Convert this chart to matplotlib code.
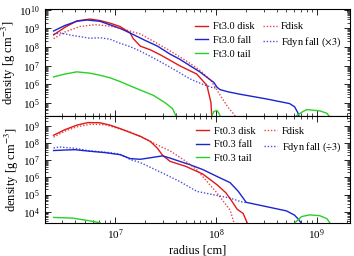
import numpy as np
import matplotlib
matplotlib.use("Agg")
import matplotlib.pyplot as plt
from matplotlib.ticker import LogLocator, NullFormatter

plt.rcParams['font.family'] = ['Liberation Serif', 'DejaVu Serif']
plt.rcParams['mathtext.fontset'] = 'stix'

# values, as log10(radius) / log10(density)
# --- top panel (Ft3.0) ---
t_disk_x = [6.39, 6.50, 6.62, 6.75, 6.85, 6.95, 7.05, 7.15, 7.18, 7.25, 7.35, 7.45, 7.64, 7.81, 7.91, 7.95, 7.96]
t_disk_y = [8.65, 9.05, 9.40, 9.50, 9.42, 9.28, 9.10, 8.75, 8.45, 8.05, 7.85, 7.58, 7.00, 6.55, 5.95, 5.04, 4.20]
t_fall_x = [6.39, 6.50, 6.62, 6.72, 6.85, 6.95, 7.05, 7.15, 7.30, 7.42, 7.545, 7.64, 7.84, 7.95, 7.98, 8.01, 8.04, 8.12, 8.24, 8.50, 8.73, 8.78, 8.81, 8.83]
t_fall_y = [8.86, 9.15, 9.38, 9.45, 9.38, 9.19, 9.00, 8.75, 8.35, 8.05, 7.62, 7.35, 6.67, 6.22, 6.10, 5.85, 5.72, 5.60, 5.47, 5.22, 4.97, 4.80, 4.50, 4.20]
t_tail_x = [6.39, 6.50, 6.62, 6.75, 6.85, 6.95, 7.05, 7.18, 7.38, 7.50, 7.57, 7.61]
t_tail_y = [6.40, 6.55, 6.67, 6.60, 6.49, 6.35, 6.15, 5.85, 5.41, 5.00, 4.70, 4.23]
t_tail2_x = [7.95, 7.98, 8.01, 8.03, 8.05]
t_tail2_y = [4.20, 4.55, 4.60, 4.45, 4.20]
t_tail3_x = [8.78, 8.85, 8.90, 9.03, 9.10, 9.13]
t_tail3_y = [4.25, 4.50, 4.65, 4.58, 4.45, 4.25]
t_fdisk_x = [6.39, 6.50, 6.65, 6.80, 6.95, 7.05, 7.15, 7.25, 7.40, 7.55, 7.70, 7.85, 7.95, 8.05, 8.12, 8.19, 8.22]
t_fdisk_y = [8.45, 8.80, 9.10, 9.20, 9.12, 9.00, 8.85, 8.70, 8.25, 7.78, 7.28, 6.72, 6.20, 5.35, 4.77, 4.32, 4.20]
t_fdyn_x = [6.39, 6.45, 6.55, 6.75, 6.85, 6.95, 7.05, 7.15, 7.25, 7.35, 7.47, 7.60, 7.74, 7.87, 7.95, 8.00]
t_fdyn_y = [8.68, 8.76, 8.65, 8.47, 8.50, 8.42, 8.20, 8.02, 7.78, 7.50, 7.15, 6.75, 6.30, 6.00, 5.85, 5.80]

# --- bottom panel (Ft0.3) ---
b_disk_x = [6.39, 6.50, 6.62, 6.73, 6.85, 6.95, 7.05, 7.15, 7.25, 7.35, 7.42, 7.47, 7.545, 7.70, 7.87, 8.01, 8.10, 8.16, 8.21, 8.27, 8.31]
b_disk_y = [8.46, 8.78, 9.05, 9.20, 9.19, 9.05, 8.85, 8.62, 8.40, 8.10, 7.70, 7.30, 6.94, 6.65, 6.20, 5.58, 5.10, 4.60, 4.15, 3.90, 3.35]
b_fall_x = [6.39, 6.50, 6.60, 6.75, 6.90, 7.05, 7.15, 7.25, 7.35, 7.47, 7.55, 7.64, 7.74, 7.87, 8.01, 8.14, 8.22, 8.30, 8.50, 8.70, 8.78, 8.82, 8.85]
b_fall_y = [7.57, 7.60, 7.62, 7.53, 7.45, 7.33, 7.10, 7.06, 7.15, 7.26, 7.12, 6.94, 6.75, 6.46, 6.06, 5.70, 5.20, 4.55, 4.30, 4.05, 3.80, 3.55, 3.30]
b_tail_x = [6.39, 6.58, 6.75, 6.85]
b_tail_y = [3.67, 3.63, 3.47, 3.36]
b_tail2_x = [8.78, 8.85, 8.93, 9.03, 9.10, 9.13]
b_tail2_y = [3.35, 3.72, 3.82, 3.77, 3.60, 3.35]
b_fdisk_x = [6.39, 6.50, 6.62, 6.75, 6.90, 7.05, 7.15, 7.30, 7.47, 7.545, 7.70, 7.81, 8.01, 8.14, 8.18]
b_fdisk_y = [8.35, 8.70, 8.95, 9.10, 9.08, 8.82, 8.65, 8.25, 7.75, 7.55, 6.95, 6.45, 5.10, 4.10, 3.35]
b_fdyn_x = [6.39, 6.45, 6.60, 6.75, 6.95, 7.05, 7.15, 7.25, 7.47, 7.64, 7.81, 7.97, 8.14, 8.24, 8.30]
b_fdyn_y = [7.72, 7.78, 7.70, 7.55, 7.45, 7.35, 7.05, 6.87, 6.26, 5.77, 5.19, 5.00, 4.80, 4.60, 4.53]

RED = '#e01818'
BLUE = '#1c24d0'
GREEN = '#28d028'
DOT = (0, (1, 1.3))

def p(v):
    return np.power(10.0, v)

fig = plt.figure(figsize=(3.54, 2.56), dpi=100)
ax1 = fig.add_axes([0.126, 0.545, 0.863, 0.42])
ax2 = fig.add_axes([0.126, 0.130, 0.863, 0.415])

lw = 1.0
ax1.plot(p(t_disk_x), p(t_disk_y), color=RED, lw=lw, label='Ft3.0 disk')
ax1.plot(p(t_fall_x), p(t_fall_y), color=BLUE, lw=lw, label='Ft3.0 fall')
ax1.plot(p(t_tail_x), p(t_tail_y), color=GREEN, lw=lw, label='Ft3.0 tail')
ax1.plot(p(t_tail2_x), p(t_tail2_y), color=GREEN, lw=lw)
ax1.plot(p(t_tail3_x), p(t_tail3_y), color=GREEN, lw=lw)
ax1.plot(p(t_fdisk_x), p(t_fdisk_y), color=RED, lw=lw, ls=DOT, alpha=0.8, label='Fdisk')
ax1.plot(p(t_fdyn_x), p(t_fdyn_y), color=BLUE, lw=lw, ls=DOT, alpha=0.8, label=r'Fdyn fall ($\times3$)')

ax2.plot(p(b_disk_x), p(b_disk_y), color=RED, lw=lw, label='Ft0.3 disk')
ax2.plot(p(b_fall_x), p(b_fall_y), color=BLUE, lw=lw, label='Ft0.3 fall')
ax2.plot(p(b_tail_x), p(b_tail_y), color=GREEN, lw=lw, label='Ft0.3 tail')
ax2.plot(p(b_tail2_x), p(b_tail2_y), color=GREEN, lw=lw)
ax2.plot(p(b_fdisk_x), p(b_fdisk_y), color=RED, lw=lw, ls=DOT, alpha=0.8, label='Fdisk')
ax2.plot(p(b_fdyn_x), p(b_fdyn_y), color=BLUE, lw=lw, ls=DOT, alpha=0.8, label=r'Fdyn fall ($\div3$)')

for ax, anchor in ((ax1, (1.0, 0.955)), (ax2, (1.0, 0.985))):
    ax.set_xscale('log')
    ax.set_yscale('log')
    ax.set_xlim(2.0e6, 2.14e9)
    ax.tick_params(which='both', direction='in', top=True, right=True, labelsize=8)
    ax.tick_params(which='major', length=4, width=0.6)
    ax.tick_params(which='minor', length=2, width=0.5)
    ax.yaxis.set_major_locator(LogLocator(base=10, numticks=20))
    ax.yaxis.set_minor_locator(LogLocator(base=10, subs=np.arange(2, 10), numticks=20))
    ax.yaxis.set_minor_formatter(NullFormatter())
    ax.set_ylabel(r'density [g cm$^{-3}$]', fontsize=9, labelpad=1)
    ax.legend(loc='upper right', bbox_to_anchor=anchor, ncol=2, frameon=False,
              fontsize=7.5, handlelength=1.3, handletextpad=0.45,
              columnspacing=0.8, labelspacing=0.42, borderaxespad=0.4)
    for s in ax.spines.values():
        s.set_linewidth(0.8)

ax1.set_ylim(1.9e4, 1.1e10)
ax2.set_ylim(2.3e3, 3.6e9)
ax1.tick_params(labelbottom=False)
ax2.set_xlabel('radius [cm]', fontsize=9, labelpad=2)

fig.savefig('out.png', dpi=100)
